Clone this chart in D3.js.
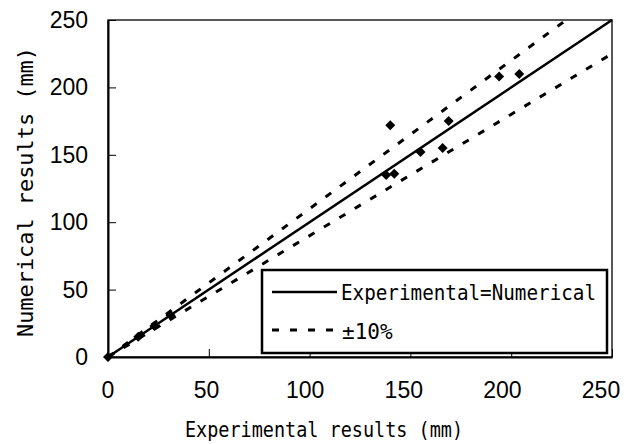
<!DOCTYPE html>
<html>
<head>
<meta charset="utf-8">
<script src="https://d3js.org/d3.v7.min.js"></script>
<style>
body { margin: 0; background: #fff; }
text { fill: #000; }
</style>
</head>
<body>
<svg id="chart" width="643" height="444"></svg>
<script>
var experimental = [0, 15, 23, 31, 138, 140, 142, 155, 166, 169, 194, 204];
var numerical    = [0, 15, 23, 31, 135, 172, 136, 152, 155, 175, 208, 210];

var tickValues = [0, 50, 100, 150, 200, 250];
var equalLine = [[0, 0], [250, 250]];
var upperLine = [[0, 0], [230, 253]];   // +10%
var lowerLine = [[0, 0], [250, 225]];   // -10%

var svg = d3.select("#chart");
var plotL = 108, plotR = 612, plotT = 20, plotB = 357;

var x = d3.scaleLinear().domain([0, 250]).range([plotL, plotR]);
var y = d3.scaleLinear().domain([0, 250]).range([plotB, plotT]);

var line = d3.line()
  .x(function (d) { return x(d[0]); })
  .y(function (d) { return y(d[1]); });

// frame
svg.append("rect")
  .attr("x", plotL).attr("y", plotT)
  .attr("width", plotR - plotL).attr("height", plotB - plotT)
  .attr("fill", "none").attr("stroke", "#222").attr("stroke-width", 1.5);

// inward ticks
var yAxis = d3.axisRight(y).tickValues(tickValues).tickSize(8).tickSizeOuter(0).tickFormat("");
svg.append("g").attr("transform", "translate(" + plotL + ",0)").call(yAxis)
  .call(function (g) { g.select(".domain").attr("stroke-width", 2); });
var xAxis = d3.axisTop(x).tickValues(tickValues).tickSize(8).tickSizeOuter(0).tickFormat("");
svg.append("g").attr("transform", "translate(0," + plotB + ")").call(xAxis)
  .call(function (g) { g.select(".domain").attr("stroke-width", 2); });

// tick labels
svg.selectAll("text.ylab").data(tickValues).enter().append("text")
  .attr("class", "ylab")
  .attr("x", 88).attr("y", function (d) { return y(d) + 8; })
  .attr("text-anchor", "end")
  .style("font-family", "Liberation Sans, Arial, sans-serif")
  .style("font-size", "23px")
  .text(function (d) { return d; });

svg.selectAll("text.xlab").data(tickValues).enter().append("text")
  .attr("class", "xlab")
  .attr("x", function (d, i) { return x(d) - i * 2.2; }).attr("y", 398)
  .attr("text-anchor", "middle")
  .style("font-family", "Liberation Sans, Arial, sans-serif")
  .style("font-size", "23px")
  .text(function (d) { return d; });

// lines
svg.append("path").attr("d", line(equalLine))
  .attr("fill", "none").attr("stroke", "#000").attr("stroke-width", 2.5);
svg.append("path").attr("d", line(upperLine))
  .attr("fill", "none").attr("stroke", "#000").attr("stroke-width", 3)
  .attr("stroke-dasharray", "7,11");
svg.append("path").attr("d", line(lowerLine))
  .attr("fill", "none").attr("stroke", "#000").attr("stroke-width", 3)
  .attr("stroke-dasharray", "7,11");

// points
var diamond = d3.symbol().type(d3.symbolSquare).size(50);
svg.selectAll("path.pt").data(experimental).enter().append("path")
  .attr("class", "pt")
  .attr("d", diamond)
  .attr("transform", function (d, i) {
    return "translate(" + x(d) + "," + y(numerical[i]) + ") rotate(45)";
  })
  .attr("fill", "#000");

// legend
var lg = svg.append("g");
lg.append("rect")
  .attr("x", 262).attr("y", 270).attr("width", 345).attr("height", 83)
  .attr("fill", "#fff").attr("stroke", "#000").attr("stroke-width", 2.5);
lg.append("line").attr("x1", 272).attr("x2", 337).attr("y1", 292).attr("y2", 292)
  .attr("stroke", "#000").attr("stroke-width", 2.5);
lg.append("line").attr("x1", 272).attr("x2", 337).attr("y1", 330).attr("y2", 330)
  .attr("stroke", "#000").attr("stroke-width", 3).attr("stroke-dasharray", "7,11");
lg.append("text").attr("x", 341).attr("y", 300)
  .style("font-family", "DejaVu Sans Mono, monospace").style("font-size", "21px")
  .attr("textLength", 255).attr("lengthAdjust", "spacingAndGlyphs")
  .text("Experimental=Numerical");
lg.append("text").attr("x", 342).attr("y", 339)
  .style("font-family", "DejaVu Sans Mono, monospace").style("font-size", "21px")
  .text("±10%");

// axis titles
svg.append("text").attr("x", 324).attr("y", 437)
  .attr("text-anchor", "middle")
  .style("font-family", "DejaVu Sans Mono, monospace").style("font-size", "21px")
  .attr("textLength", 278).attr("lengthAdjust", "spacingAndGlyphs")
  .text("Experimental results  (mm)");

svg.append("text")
  .attr("transform", "translate(33,192) rotate(-90)")
  .attr("text-anchor", "middle")
  .style("font-family", "DejaVu Sans Mono, monospace").style("font-size", "22px")
  .attr("textLength", 290).attr("lengthAdjust", "spacingAndGlyphs")
  .text("Numerical results  (mm)");
</script>
</body>
</html>
